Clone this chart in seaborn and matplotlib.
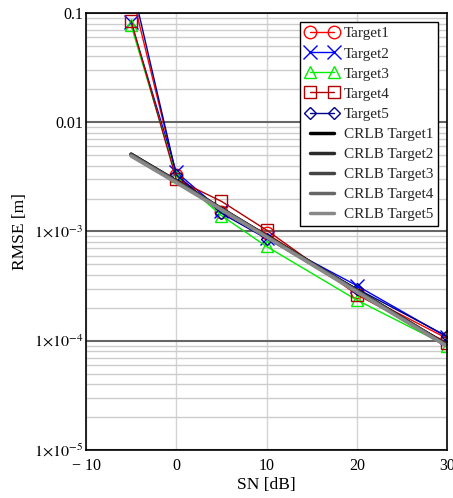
import matplotlib
matplotlib.use("Agg")
import matplotlib.pyplot as plt
import seaborn as sns
import pandas as pd
import numpy as np
from matplotlib.ticker import FixedLocator, FixedFormatter, LogLocator, NullFormatter

sn_db = [-5, 0, 5, 10, 20, 30]
target1 = [0.16, 3.3e-3, 1.5e-3, 9.6e-4, 2.8e-4, 1.05e-4]
target2 = [0.082, 3.5e-3, 1.55e-3, 8.8e-4, 3.2e-4, 1.08e-4]
target3 = [0.077, 3.2e-3, 1.4e-3, 7.3e-4, 2.36e-4, 9.0e-5]
target4 = [0.0845, 3.0e-3, 1.89e-3, 1.03e-3, 2.65e-4, 9.6e-5]
target5 = [0.20, 3.3e-3, 1.47e-3, 8.6e-4, 3.0e-4, 1.1e-4]
crlb1 = [5.1e-3, 2.9e-3, 1.62e-3, 9.1e-4, 2.9e-4, 9.1e-5]
crlb2 = [5.1e-3, 2.9e-3, 1.61e-3, 9.1e-4, 2.9e-4, 9.1e-5]
crlb3 = [5.0e-3, 2.85e-3, 1.6e-3, 9.0e-4, 2.85e-4, 9.0e-5]
crlb4 = [5.0e-3, 2.85e-3, 1.6e-3, 9.0e-4, 2.85e-4, 9.0e-5]
crlb5 = [4.9e-3, 2.8e-3, 1.58e-3, 8.9e-4, 2.8e-4, 8.9e-5]

target_names = ["Target1", "Target2", "Target3", "Target4", "Target5"]
crlb_names = ["CRLB Target1", "CRLB Target2", "CRLB Target3", "CRLB Target4", "CRLB Target5"]
x_ticks = [-10, 0, 10, 20, 30]
x_tick_labels = ["\u2212 10", "0", "10", "20", "30"]
y_ticks = [1e-5, 1e-4, 1e-3, 1e-2, 1e-1]
y_tick_labels = [r"$1{\times}10^{-5}$", r"$1{\times}10^{-4}$", r"$1{\times}10^{-3}$", "0.01", "0.1"]

sns.set_theme(style="white")
plt.rcParams["font.family"] = ["Liberation Serif", "DejaVu Serif"]
plt.rcParams["mathtext.fontset"] = "stix"

fig = plt.figure(figsize=(4.53, 4.98), dpi=100)
ax = fig.add_axes([86/453, 1-450/498, 361/453, 437/498])

target_colors = ["#ff0000", "#0000ff", "#00ee00", "#b00000", "#000090"]
target_markers = ["o", "x", "^", "s", "D"]
target_ms = [9, 10, 9, 9, 6]
crlb_colors = ["#000000", "#2a2a2a", "#444444", "#666666", "#888888"]

targets = [target1, target2, target3, target4, target5]
crlbs = [crlb1, crlb2, crlb3, crlb4, crlb5]

for name, vals, c, m, ms in zip(target_names, targets, target_colors, target_markers, target_ms):
    df = pd.DataFrame({"SN": sn_db, "RMSE": vals})
    sns.lineplot(data=df, x="SN", y="RMSE", ax=ax, color=c, marker=m, markersize=ms,
                 markerfacecolor="none", markeredgecolor=c, markeredgewidth=1.0,
                 linewidth=1.0, label=name)

for name, vals, c in zip(crlb_names, crlbs, crlb_colors):
    df = pd.DataFrame({"SN": sn_db, "RMSE": vals})
    sns.lineplot(data=df, x="SN", y="RMSE", ax=ax, color=c, linewidth=2.5, label=name)

ax.set_yscale("log")
ax.set_xlim(-10, 30)
ax.set_ylim(1e-5, 0.1)

ax.yaxis.set_major_locator(FixedLocator(y_ticks))
ax.yaxis.set_major_formatter(FixedFormatter(y_tick_labels))
ax.yaxis.set_minor_locator(LogLocator(base=10, subs=np.arange(2, 10)))
ax.yaxis.set_minor_formatter(NullFormatter())
ax.xaxis.set_major_locator(FixedLocator(x_ticks))
ax.xaxis.set_major_formatter(FixedFormatter(x_tick_labels))

ax.grid(which="major", axis="y", color="#666666", linewidth=1.5)
ax.grid(which="minor", axis="y", color="#cccccc", linewidth=1.0)
ax.grid(which="major", axis="x", color="#d4d4d4", linewidth=1.0)
ax.set_axisbelow(True)

for s in ax.spines.values():
    s.set_visible(True)
    s.set_color("black")
    s.set_linewidth(1.2)

ax.tick_params(axis="y", which="both", length=0, labelsize=11.5, colors="black", pad=2)
ax.tick_params(axis="x", which="both", length=0, labelsize=11.5, colors="black", pad=6)
ax.set_xlabel("SN [dB]", fontsize=12.5, color="black", labelpad=2)
ax.set_ylabel("RMSE [m]", fontsize=12.5, color="black", labelpad=4)

leg = ax.legend(loc="upper right", bbox_to_anchor=(0.975, 0.979), borderaxespad=0,
                fontsize=11, frameon=True, fancybox=False, framealpha=1,
                edgecolor="black", handlelength=2.2, handletextpad=0.35,
                labelspacing=0.42, borderpad=0.3, numpoints=2)
leg.get_frame().set_linewidth(1.0)

fig.savefig("out.png", dpi=100)
